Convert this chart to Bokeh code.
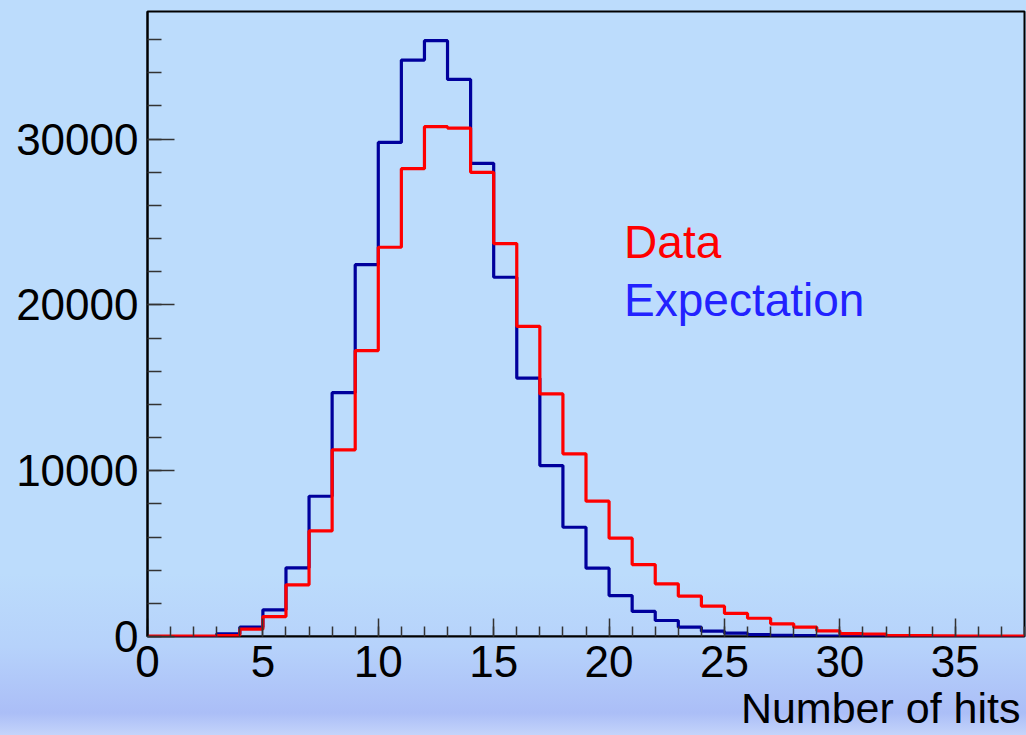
from bokeh.plotting import figure
from bokeh.models import Range1d, SingleIntervalTicker, Label, Title, Span
from bokeh.embed import file_html
from bokeh.resources import INLINE

# Bin edges (number of hits), unit width bins from 0 to 38
bin_edges = list(range(0, 39))

expectation = [0, 0, 0, 160, 560, 1610, 4140, 8460, 14710, 22430,
               29800, 34770, 35940, 33600, 28540, 21670, 15580, 10310, 6590, 4120,
               2470, 1510, 965, 560, 320, 200, 120, 70, 50, 30,
               0, 0, 0, 0, 0, 0, 0, 0]

data = [20, 20, 30, 50, 440, 1200, 3120, 6370, 11260, 17250,
        23480, 28220, 30750, 30670, 28000, 23700, 18710, 14630, 11020, 8160,
        5930, 4340, 3180, 2430, 1830, 1390, 1100, 765, 560, 340,
        170, 150, 60, 50, 40, 30, 25, 20]

x_label = "Number of hits"
legend_labels = ["Data", "Expectation"]

p = figure(width=1026, height=735, output_backend="svg", toolbar_location=None,
           x_range=Range1d(0, 38), y_range=Range1d(0, 37700),
           min_border_left=147, min_border_right=2, min_border_top=11, min_border_bottom=99)

p.border_fill_color = None
p.background_fill_color = None
p.styles = {"background": "linear-gradient(to bottom, #bcdcfc 0%, #bcdcfc 78%, #b6d2fb 88%, #abbef7 97%, #c4d4fa 100%)"}
p.outline_line_color = "black"
p.outline_line_width = 2
p.grid.visible = False

# baseline drawn beneath the histograms
p.add_layout(Span(location=0, dimension="width", line_color="black", line_width=2, level="underlay"))

# histograms as steps
blue_y = expectation + [expectation[-1]]
red_y = data + [data[-1]]
p.step(bin_edges, blue_y, mode="after", line_color="#00009c", line_width=3.2)
p.step(bin_edges, red_y, mode="after", line_color="#ff0000", line_width=3.2)

# axes
for ax in p.xaxis:
    ax.ticker = SingleIntervalTicker(interval=5, num_minor_ticks=5)
    ax.major_tick_in = 18
    ax.major_tick_out = 0
    ax.minor_tick_in = 10
    ax.minor_tick_out = 0
    ax.axis_line_color = None
    ax.major_tick_line_color = "#333333"
    ax.minor_tick_line_color = "#333333"
    ax.major_tick_line_width = 1.5
    ax.minor_tick_line_width = 1.5
    ax.major_label_text_font = "Liberation Sans"
    ax.major_label_text_font_size = "44px"
    ax.major_label_text_color = "black"
    ax.major_label_standoff = 9

for ax in p.yaxis:
    ax.ticker = SingleIntervalTicker(interval=10000, num_minor_ticks=5)
    ax.major_tick_in = 27
    ax.major_tick_out = 0
    ax.minor_tick_in = 14
    ax.minor_tick_out = 0
    ax.axis_line_width = 2
    ax.axis_line_color = "black"
    ax.major_tick_line_color = "#333333"
    ax.minor_tick_line_color = "#333333"
    ax.major_tick_line_width = 1.5
    ax.minor_tick_line_width = 1.5
    ax.major_label_text_font = "Liberation Sans"
    ax.major_label_text_font_size = "44px"
    ax.major_label_text_color = "black"
    ax.major_label_standoff = 9

# legend texts
p.add_layout(Label(x=20.65, y=23800, text=legend_labels[0], text_color="#ff0000",
                   text_font="Liberation Sans", text_font_size="46px",
                   text_baseline="alphabetic"))
p.add_layout(Label(x=20.65, y=20300, text=legend_labels[1], text_color="#2222ff",
                   text_font="Liberation Sans", text_font_size="46px",
                   text_baseline="alphabetic"))

# x axis title, right aligned below axis
p.add_layout(Title(text=x_label, align="right", text_color="black",
                   text_font="Liberation Sans", text_font_size="43px",
                   text_font_style="normal", standoff=4, offset=4), "below")

open("out.html", "w").write(file_html(p, INLINE))
